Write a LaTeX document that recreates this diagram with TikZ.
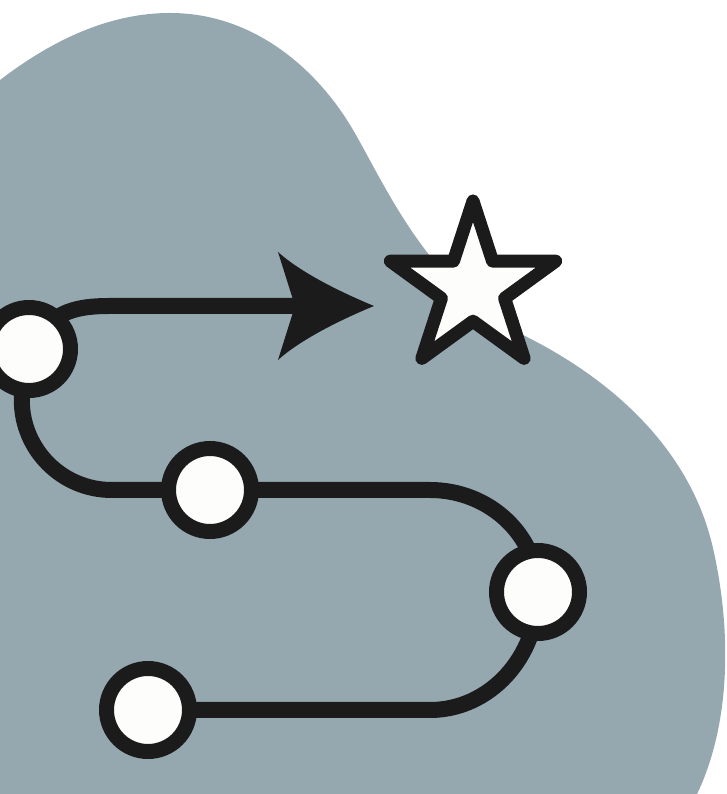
\documentclass[tikz,border=0pt]{standalone}
\usetikzlibrary{shapes.geometric,backgrounds,calc}

\definecolor{slate}{HTML}{95A8B0}
\definecolor{ink}{HTML}{1B1B1B}
\definecolor{paper}{HTML}{FDFDFB}

\tikzset{
  stop/.style={circle,draw=ink,fill=paper,line width=15pt,minimum size=83pt,inner sep=0pt,outer sep=0pt},
  goal/.style={star,star points=5,star point ratio=2.618,draw=ink,fill=paper,line width=13pt,line join=round,minimum size=174pt,inner sep=0pt},
  trail/.style={draw=ink,line width=16pt}
}

\begin{document}
\begin{tikzpicture}[x=1pt,y=1pt]
\useasboundingbox (0,0) rectangle (726,794);

\node[stop] (s1) at (29,445) {};
\node[stop] (s2) at (210,304) {};
\node[stop] (s3) at (538,202) {};
\node[stop] (s4) at (148,84) {};
\node[goal] (star) at (473,506) {};
\coordinate (tip) at (374,488);

\begin{scope}[on background layer]
% blob behind everything
\fill[slate] (-40,680) .. controls (30,745) and (100,781) .. (170,781)
  .. controls (250,781) and (310,730) .. (345,677)
  .. controls (380,624) and (420,510) .. (527,457)
  .. controls (620,410) and (690,340) .. (712,250)
  .. controls (730,175) and (735,70) .. (692,-10)
  -- (-40,-10) -- cycle;
% route
\draw[trail] (s1.center) .. controls (50,480) and (70,488) .. (110,488) -- ($(tip)+(-74,0)$);
\draw[trail,rounded corners=90pt] (s1.-100) |- (s2.center);
\draw[trail] (s2.center) -- ($(s3)+(-108,102)$) arc[start angle=90,end angle=0,x radius=108,y radius=102]
  arc[start angle=0,end angle=-90,x radius=108,y radius=118] -- (s4.center);
\end{scope}
% arrow head
\fill[ink] (tip) .. controls (340,502) and (300,522) .. (278,542) -- (295,488) -- (278,434) .. controls (300,454) and (340,474) .. (tip) -- cycle;
\end{tikzpicture}
\end{document}
